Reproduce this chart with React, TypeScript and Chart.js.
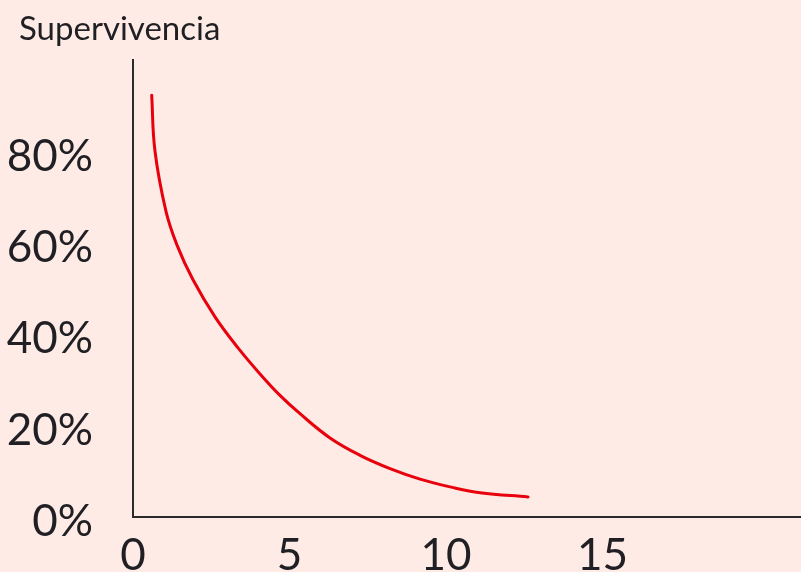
import React, { useEffect, useRef } from "react";
import { Chart, registerables } from "chart.js";

Chart.register(...registerables);

const titleText = "Supervivencia";
const years = [0.597, 0.7, 1.05, 1.406, 1.917, 2.62, 3.355, 4.058, 4.696, 5.335, 6.294, 7.252, 8.211, 9.169, 10.128, 11.086, 12.62];
const survival = [92.3, 80.2, 67.0, 59.5, 51.9, 43.8, 37.0, 31.3, 26.6, 22.6, 17.3, 13.5, 10.6, 8.3, 6.6, 5.3, 4.4];
const xTickValues = [0, 5, 10, 15];
const yTickValues = [0, 20, 40, 60, 80];

const FONT = "Lato, 'Noto Sans', sans-serif";
const TEXT = "#1f1f24";

const titlePlugin = {
  id: "cornerTitle",
  afterDraw(chart: any) {
    const ctx = chart.ctx;
    ctx.save();
    ctx.fillStyle = TEXT;
    ctx.font = `33px ${FONT}`;
    ctx.textAlign = "left";
    ctx.textBaseline = "alphabetic";
    ctx.fillText(titleText, 19, 40);
    ctx.restore();
  },
};

export default function App() {
  const ref = useRef<HTMLCanvasElement>(null);
  useEffect(() => {
    document.body.style.margin = "0";
    const points = years.map((x, i) => ({ x, y: survival[i] }));
    const chart = new Chart(ref.current!, {
      type: "line",
      data: {
        datasets: [
          {
            data: points,
            borderColor: "#e8000d",
            borderWidth: 3,
            pointRadius: 0,
            tension: 0.4,
            borderCapStyle: "round",
            fill: false,
          },
        ],
      },
      options: {
        animation: false,
        responsive: false,
        maintainAspectRatio: false,
        layout: { padding: { top: 60, right: 0, left: 0, bottom: 0 } },
        plugins: { legend: { display: false }, tooltip: { enabled: false }, title: { display: false } },
        scales: {
          x: {
            type: "linear",
            min: 0,
            max: 21.34,
            afterBuildTicks: (s: any) => {
              s.ticks = xTickValues.map((v) => ({ value: v }));
            },
            afterFit: (s: any) => {
              s.height = 55;
              s.paddingLeft = 0;
              s.paddingRight = 0;
            },
            grid: { display: false, drawTicks: false },
            border: { display: true, color: "#2a2a2a", width: 2 },
            ticks: {
              color: TEXT,
              font: { family: FONT, size: 44 },
              padding: 12,
              maxRotation: 0,
              autoSkip: false,
            },
          },
          y: {
            type: "linear",
            min: 0,
            max: 100,
            afterBuildTicks: (s: any) => {
              s.ticks = yTickValues.map((v) => ({ value: v }));
            },
            afterFit: (s: any) => {
              s.width = 133;
              s.paddingTop = 0;
              s.paddingBottom = 0;
            },
            grid: { display: false, drawTicks: false },
            border: { display: true, color: "#2a2a2a", width: 2 },
            ticks: {
              color: TEXT,
              font: { family: FONT, size: 44 },
              padding: 40,
              labelOffset: 5,
              callback: (v: any) => v + "%",
            },
          },
        },
      },
      plugins: [titlePlugin],
    });
    return () => chart.destroy();
  }, []);
  return (
    <div style={{ width: 801, height: 572, background: "#feebe6", overflow: "hidden" }}>
      <canvas ref={ref} width={801} height={572} style={{ display: "block" }} />
    </div>
  );
}
